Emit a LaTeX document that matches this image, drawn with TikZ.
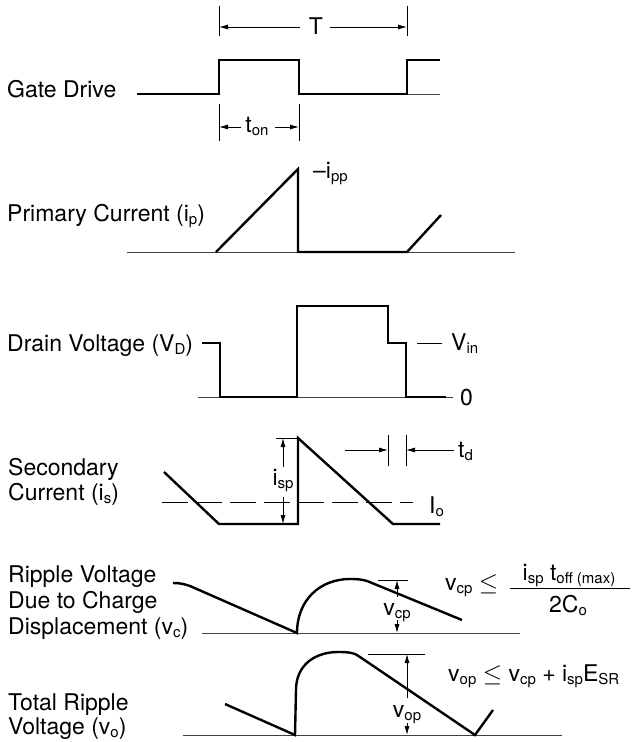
\documentclass[tikz,border=0pt]{standalone}
\usepackage{fontspec}
\setmainfont{TeX Gyre Heros}
\usetikzlibrary{arrows.meta}
\newcommand{\sbs}[1]{\raisebox{-0.28ex}{\fontsize{15}{15}\selectfont #1}}
\begin{document}
\begin{tikzpicture}[x=1pt,y=-1pt,
  every node/.style={inner sep=0pt, font=\fontsize{23}{27}\selectfont},
  wave/.style={line width=2.4pt, line join=miter},
  axis/.style={line width=0.9pt, black!75},
  dim/.style={line width=0.8pt},
  arr/.style={dim, -{Latex[length=9pt,width=5pt]}},
  lbl/.style={anchor=base west},
  mid/.style={anchor=base}]
\path[use as bounding box] (0,0) rectangle (632,742);

% ---------- Gate drive ----------
\node[lbl] (gd) at (7,97) {Gate Drive};
\draw[axis] (407,94) -- (440,94);
\draw[wave] (137,94) -- (219,94) -- (219,60) -- (299,60) -- (299,94) -- (407,94) -- (407,60) -- (440,60);
% T dimension
\coordinate (tL) at (219,27); \coordinate (tR) at (407,27);
\draw[dim] (219,6) -- (219,36); \draw[dim] (407,6) -- (407,36);
\node[mid] (T) at (316,34) {T};
\draw[arr] (300,27) -- (tL);
\draw[arr] (330,27) -- (tR);
% t_on dimension
\coordinate (oL) at (219,127); \coordinate (oR) at (299,127);
\draw[dim] (219,104) -- (219,141); \draw[dim] (299,104) -- (299,141);
\node[mid] (ton) at (257,132) {t\sbs{on}};
\draw[arr] (241,127) -- (oL);
\draw[arr] (275,127) -- (oR);

% ---------- Primary current ----------
\node[lbl] (pc) at (7,221) {Primary Current (i\sbs{p})};
\draw[axis] (127,252) -- (515,252);
\draw[wave] (216,252) -- (298,169) -- (298,252) -- (407,252) -- (441,215);
\node[lbl] (ipp) at (313,178) {–i\sbs{pp}};

% ---------- Drain voltage ----------
\node[lbl] (dv) at (7,351) {Drain Voltage (V\sbs{D})};
\draw[axis] (198,397) -- (453,397);
\draw[wave] (202,343) -- (220,343) -- (220,397) -- (297,397) -- (297,306) -- (388,306) -- (388,343) -- (406,343) -- (406,397) -- (446,397);
\draw[dim] (417,343) -- (442,343);
\node[lbl] (vin) at (451,350) {V\sbs{in}};
\node[lbl] (zero) at (460,405) {0};

% ---------- Secondary current ----------
\node[lbl] (sc1) at (8,475) {Secondary};
\node[lbl] (sc2) at (8,500) {Current (i\sbs{s})};
\draw[dim, dash pattern=on 26pt off 8pt] (162,502) -- (413,502);
\draw[wave] (164,472) -- (219,524) -- (298,524) -- (298,438) -- (393,524) -- (440,524);
\node[lbl] (io) at (429,513) {I\sbs{o}};
\draw[dim] (276,438) -- (297,438);
\node[mid] (isp) at (283,485) {i\sbs{sp}};
\draw[arr] (283,467) -- (283,438);
\draw[arr] (283,497) -- (283,524);
% t_d
\draw[dim] (388,435) -- (388,466); \draw[dim] (406,435) -- (406,466);
\node[lbl] (td) at (458,457) {t\sbs{d}};
\draw[arr] (345,450) -- (388,450);
\draw[arr] (454,450) -- (406,450);

% ---------- Ripple voltage ----------
\node[lbl] (rv1) at (8,582) {Ripple Voltage};
\node[lbl] (rv2) at (8,608) {Due to Charge};
\node[lbl] (rv3) at (8,634) {Displacement (v\sbs{c})};
\draw[axis] (202,633) -- (520,633);
\draw[wave] (173,583) .. controls (180,583) and (184,584) .. (190,586) -- (297,633)
  .. controls (297,600) and (320,579) .. (350,579)
  .. controls (360,579) and (366,580) .. (372,583) -- (462,620);
\draw[dim] (378,580) -- (408,580);
\node[mid] (vcpl) at (397,615) {v\sbs{cp}};
\draw[arr] (397,597) -- (397,580);
\draw[arr] (397,620) -- (397,633);
% formula
\node[lbl] (vcpf) at (445,590) {v\sbs{cp} $\leq$};
\node[mid] (num) at (569,580) {i\sbs{sp} t\sbs{off (max)}};
\node[mid] (den) at (568,612) {2C\sbs{o}};
\draw[line width=1pt] (510,588) -- (630,588);

% ---------- Total ripple ----------
\node[lbl] (tr1) at (8,710) {Total Ripple};
\node[lbl] (tr2) at (8,734) {Voltage (v\sbs{o})};
\draw[axis] (183,735) -- (562,735);
\draw[wave] (225,704) -- (295,735) -- (296,690)
  .. controls (296,665) and (315,652) .. (338,652)
  .. controls (350,652) and (355,653) .. (360,657) -- (475,735) -- (493,710);
\draw[dim] (368,654) -- (425,654);
\node[mid] (vopl) at (407,717) {v\sbs{op}};
\draw[arr] (407,698) -- (407,654);
\draw[arr] (407,723) -- (407,735);
\node[lbl] (vopf) at (448,681) {v\sbs{op} $\leq$ v\sbs{cp} + i\sbs{sp}E\sbs{SR}};
\end{tikzpicture}
\end{document}
